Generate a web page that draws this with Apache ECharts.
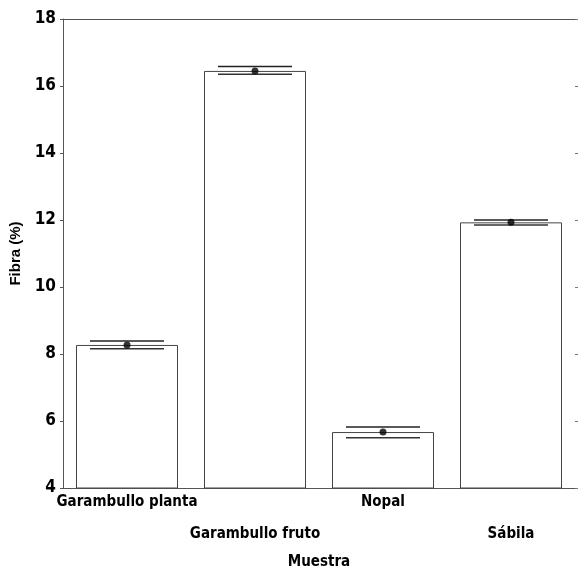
<!DOCTYPE html>
<html>
<head>
<meta charset="utf-8">
<script src="https://cdn.jsdelivr.net/npm/echarts@6/dist/echarts.min.js"></script>
<style>
    html, body { margin: 0; padding: 0; background: #fff; }
    #chart { width: 579px; height: 571px; }
</style>
</head>
<body>
<div id="chart"></div>
<script>
var categories = ['Garambullo planta', 'Garambullo fruto', 'Nopal', 'Sábila'];
var means = [8.27, 16.45, 5.67, 11.93];
var errHigh = [8.39, 16.58, 5.82, 12.0];
var errLow = [8.16, 16.35, 5.50, 11.85];

var chart = echarts.init(document.getElementById('chart'));

var labelFont = '"DejaVu Sans Condensed", "Liberation Sans Narrow", sans-serif';

var errData = [];
for (var i = 0; i < categories.length; i++) {
    errData.push([i, errHigh[i], errLow[i]]);
}

chart.setOption({
    animation: false,
    grid: {
        left: 63,
        right: 4,
        top: 19,
        bottom: 83,
        outerBoundsMode: 'none'
    },
    xAxis: [{
        type: 'category',
        data: categories,
        position: 'bottom',
        name: 'Muestra',
        nameLocation: 'middle',
        nameGap: 60,
        nameTextStyle: {
            color: '#000',
            fontFamily: labelFont,
            fontWeight: 'bold',
            fontSize: 15
        },
        axisLine: { lineStyle: { color: '#555', width: 1 } },
        axisTick: { show: true, inside: true, length: 2, alignWithLabel: true, lineStyle: { color: '#aaa' } },
        axisLabel: {
            interval: 0,
            color: '#000',
            fontFamily: labelFont,
            fontWeight: 'bold',
            fontSize: 15,
            margin: -2,
            lineHeight: 32,
            formatter: function (value, idx) {
                return idx % 2 === 1 ? '\n' + value : value;
            }
        }
    }, {
        // top frame line
        type: 'category',
        data: categories,
        position: 'top',
        axisLine: { lineStyle: { color: '#555', width: 1 } },
        axisTick: { show: false },
        axisLabel: { show: false }
    }],
    yAxis: [{
        type: 'value',
        min: 4,
        max: 18,
        interval: 2,
        name: 'Fibra (%)',
        nameLocation: 'middle',
        nameGap: 29,
        nameTextStyle: {
            color: '#000',
            fontFamily: '"Liberation Sans", Arial, sans-serif',
            fontWeight: 'bold',
            fontSize: 15
        },
        axisLine: { show: true, lineStyle: { color: '#555', width: 1 } },
        axisTick: { show: true, length: 3, lineStyle: { color: '#555' } },
        splitLine: { show: false },
        axisLabel: {
            color: '#000',
            fontFamily: labelFont,
            fontWeight: 'bold',
            fontSize: 17,
            margin: 7
        }
    }, {
        // right side ticks only
        type: 'value',
        min: 4,
        max: 18,
        interval: 2,
        position: 'right',
        axisLine: { show: false },
        axisTick: { show: true, length: 3, lineStyle: { color: '#777' } },
        splitLine: { show: false },
        axisLabel: { show: false }
    }],
    series: [{
        type: 'bar',
        data: means,
        barWidth: 102,
        itemStyle: {
            color: '#fff',
            borderColor: '#444',
            borderWidth: 1
        },
        z: 1
    }, {
        // error bars: two horizontal lines
        type: 'custom',
        data: errData,
        renderItem: function (params, api) {
            var hi = api.coord([api.value(0), api.value(1)]);
            var lo = api.coord([api.value(0), api.value(2)]);
            var half = 37;
            return {
                type: 'group',
                children: [{
                    type: 'line',
                    shape: { x1: hi[0] - half, y1: hi[1], x2: hi[0] + half, y2: hi[1] },
                    style: { stroke: '#222', lineWidth: 1.5 }
                }, {
                    type: 'line',
                    shape: { x1: lo[0] - half, y1: lo[1], x2: lo[0] + half, y2: lo[1] },
                    style: { stroke: '#333', lineWidth: 1.5 }
                }]
            };
        },
        z: 3
    }, {
        // mean points
        type: 'scatter',
        data: means,
        symbol: 'circle',
        symbolSize: 7,
        itemStyle: { color: '#000' },
        z: 4
    }]
});
</script>
</body>
</html>
